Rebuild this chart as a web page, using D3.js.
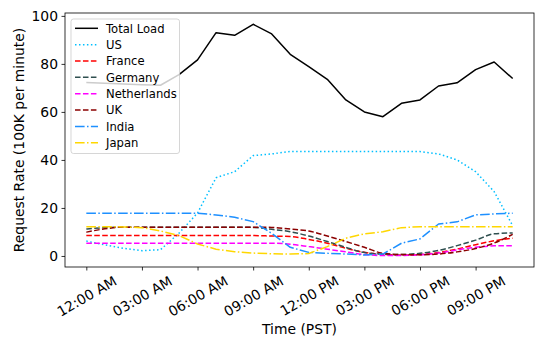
<!DOCTYPE html>
<html>
<head>
<meta charset="utf-8">
<script src="https://cdn.jsdelivr.net/npm/d3@7"></script>
<style>
  html, body { margin: 0; padding: 0; background: #fff; }
  svg { display: block; }
  text { font-family: "DejaVu Sans", sans-serif; fill: #000; }
</style>
</head>
<body>
<svg id="chart" width="536" height="337"></svg>
<script>
// ---- data ----
const hours = [0,1,2,3,4,5,6,7,8,9,10,11,12,13,14,15,16,17,18,19,20,21,22,23];
const totalLoad = [72.3,71.9,71.6,71.3,71.1,75.5,81.7,93.0,91.9,96.5,92.5,84.0,78.9,73.6,65.0,60.0,58.0,63.6,65.0,70.8,72.1,77.6,80.8,73.9];
const us = [6.2,4.6,3.2,2.2,2.6,9.5,17.9,32.6,35.1,41.8,42.5,43.5,43.5,43.5,43.5,43.5,43.5,43.5,43.5,42.5,40.0,35.1,26.8,12.6];
const france = [8.5,8.5,8.5,8.5,8.5,8.5,8.5,8.5,8.5,8.5,8.3,8.1,6.9,5.3,3.2,1.5,0.6,0.4,0.6,1.4,2.9,4.7,6.3,7.4];
const germany = [11.2,11.8,12.0,12.0,12.0,12.0,12.0,12.0,12.0,11.9,11.1,10.1,8.3,6.0,3.6,1.4,0.8,0.6,1.1,2.3,4.3,6.6,9.2,9.6];
const netherlands = [5.3,5.3,5.3,5.3,5.3,5.3,5.3,5.3,5.3,5.3,5.3,4.9,3.9,2.8,1.7,0.6,0.2,0.2,0.5,1.2,2.5,3.6,4.2,4.3];
const uk = [9.9,11.3,12.0,12.0,12.0,12.0,12.0,12.0,12.0,12.0,11.9,11.2,10.4,8.3,6.0,3.6,1.1,0.6,0.5,0.8,1.7,3.1,5.4,9.0];
const india = [17.8,17.8,17.8,17.8,17.8,17.8,17.8,17.1,16.1,14.3,9.4,3.6,1.5,1.1,0.8,0.4,0.8,5.3,7.1,13.3,14.2,17.1,17.5,17.8];
const japan = [12.2,12.2,12.1,11.8,10.4,8.5,5.0,2.8,1.8,1.2,0.9,0.8,1.0,3.9,7.4,9.2,10.1,11.8,12.2,12.2,12.2,12.2,12.2,12.2];
const xTickValues = [0,3,6,9,12,15,18,21];
const xTickLabels = ["12:00 AM","03:00 AM","06:00 AM","09:00 AM","12:00 PM","03:00 PM","06:00 PM","09:00 PM"];
const yTickValues = [0,20,40,60,80,100];
const seriesNames = ["Total Load","US","France","Germany","Netherlands","UK","India","Japan"];
const seriesValues = [totalLoad, us, france, germany, netherlands, uk, india, japan];
const seriesColors = ["#000000","#00bfff","#ff0000","#2f4f4f","#ff00ff","#8b0000","#1e90ff","#ffd700"];
const seriesDash = ["none","1.5,2.475","5.55,2.4","5.55,2.4","5.55,2.4","5.55,2.4","9.6,2.4,1.5,2.4","9.6,2.4,1.5,2.4"];
const seriesSmooth = [false,false,true,true,true,true,false,false];

// ---- layout ----
const L = 65, R = 534, T = 13, B = 267;
const svg = d3.select("#chart");
const x = d3.scaleLinear().domain([-1.15, 24.15]).range([L, R]);
const y = d3.scaleLinear().domain([-4.6, 101.2]).range([B, T]);

// lines
const g = svg.append("g");
seriesValues.forEach((vals, i) => {
  const line = d3.line()
    .x((d, j) => x(hours[j]))
    .y(d => y(d))
    .curve(seriesSmooth[i] ? d3.curveMonotoneX : d3.curveLinear);
  g.append("path")
    .attr("d", line(vals))
    .attr("fill", "none")
    .attr("stroke", seriesColors[i])
    .attr("stroke-width", 1.5)
    .attr("stroke-dasharray", seriesDash[i])
    .attr("stroke-linejoin", "round");
});

// axes
const yAxis = d3.axisLeft(y).tickValues(yTickValues).tickSize(3.5).tickPadding(3.5).tickFormat(d3.format("d"));
const yg = svg.append("g").attr("transform", `translate(${L},0)`).call(yAxis);
yg.select(".domain").remove();
yg.selectAll(".tick line").attr("stroke", "#000").attr("stroke-width", 0.8);
yg.selectAll(".tick text").attr("font-size", 13.9).attr("font-family", "DejaVu Sans").attr("fill", "#000");

const xAxis = d3.axisBottom(x).tickValues(xTickValues).tickSize(3.5)
  .tickFormat((d, i) => xTickLabels[i]);
const xg = svg.append("g").attr("transform", `translate(0,${B})`).call(xAxis);
xg.select(".domain").remove();
xg.selectAll(".tick line").attr("stroke", "#000").attr("stroke-width", 0.8);
xg.selectAll(".tick text")
  .attr("font-size", 13.9).attr("font-family", "DejaVu Sans").attr("fill", "#000")
  .attr("text-anchor", "middle")
  .attr("y", 0).attr("dy", "0.35em")
  .each(function() {
    const w = this.getComputedTextLength();
    const bh = w * 0.5 + 10.5 * 0.866;
    const cy = 8.2 + bh / 2;
    d3.select(this).attr("transform", `translate(0,${cy}) rotate(-30)`);
  });

// frame
svg.append("rect")
  .attr("x", L).attr("y", T).attr("width", R - L).attr("height", B - T)
  .attr("fill", "none").attr("stroke", "#000").attr("stroke-width", 0.8);

// axis labels
svg.append("text")
  .attr("x", (L + R) / 2).attr("y", 333.5)
  .attr("text-anchor", "middle").attr("font-size", 13.9)
  .text("Time (PST)");
svg.append("text")
  .attr("transform", `translate(24.4,${(T + B) / 2}) rotate(-90)`)
  .attr("text-anchor", "middle").attr("font-size", 13.9)
  .text("Request Rate (100K per minute)");

// legend
const lg = svg.append("g");
lg.append("rect")
  .attr("x", 71).attr("y", 19).attr("width", 108.5).attr("height", 134.5)
  .attr("rx", 2.5)
  .attr("fill", "#fff").attr("fill-opacity", 0.8)
  .attr("stroke", "#cccccc").attr("stroke-opacity", 0.8).attr("stroke-width", 1);
seriesNames.forEach((name, i) => {
  const ry = 28.3 + i * 16.35;
  lg.append("line")
    .attr("x1", 75).attr("x2", 98).attr("y1", ry).attr("y2", ry)
    .attr("stroke", seriesColors[i]).attr("stroke-width", 1.5)
    .attr("stroke-dasharray", seriesDash[i]);
  lg.append("text")
    .attr("x", 106).attr("y", ry + 4.2)
    .attr("font-size", 11.6)
    .text(name);
});
</script>
</body>
</html>
